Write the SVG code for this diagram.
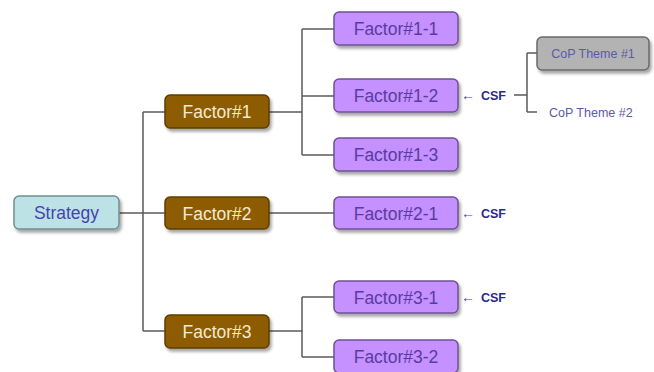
<svg xmlns="http://www.w3.org/2000/svg" width="654" height="372" viewBox="0 0 654 372">
  <defs>
    <filter id="sh" x="-10%" y="-20%" width="130%" height="160%">
      <feDropShadow dx="2" dy="3" stdDeviation="1.5" flood-color="#000" flood-opacity="0.35"/>
    </filter>
    <style>
      .box { filter: url(#sh); stroke-width: 1.5; }
      .strat { fill: #bce2e6; stroke: #6f8f94; }
      .f { fill: #8e5c00; stroke: #5e3c00; }
      .sub { fill: #c590ff; stroke: #6f5294; }
      .cop { fill: #b3b3b3; stroke: #6a6a6a; }
      text { font-family: "Liberation Sans", Arial, sans-serif; }
      .t16 { font-size: 17.5px; text-anchor: middle; }
      .ts { fill: #4444b0; }
      .tf { fill: #f4ead2; }
      .tsub { fill: #5a3ca0; }
      .csf { font-size: 12.5px; font-weight: bold; fill: #2a2a8a; }
      .arr { font-size: 14px; fill: #4444b0; }
      .copt { font-size: 12.5px; fill: #5a5aa8; }
      .conn path { fill: none; stroke: #5a5a5a; stroke-width: 1.5; }
    </style>
  </defs>
  <rect width="654" height="372" fill="#ffffff"/>

  <g id="connectors" class="conn">
    <path d="M119 213 H165"/>
    <path d="M143 112 V331"/>
    <path d="M143 112 H165"/>
    <path d="M143 331 H165"/>
    <path d="M269 112 H302"/>
    <path d="M302 29 V155"/>
    <path d="M302 29 H334"/>
    <path d="M302 96 H334"/>
    <path d="M302 155 H334"/>
    <path d="M269 213 H334"/>
    <path d="M269 331 H302"/>
    <path d="M302 297 V357"/>
    <path d="M302 297 H334"/>
    <path d="M302 357 H334"/>
    <path d="M514 95 H527"/>
    <path d="M527 53 V112"/>
    <path d="M527 53 H537"/>
    <path d="M527 112 H537"/>
  </g>

  <g id="strategy">
    <rect class="box strat" x="14" y="196" width="105" height="33" rx="5"/>
    <text class="t16 ts" x="66.5" y="219">Strategy</text>
  </g>

  <g id="factor1">
    <rect class="box f" x="165" y="95" width="104" height="33" rx="5"/>
    <text class="t16 tf" x="217" y="118">Factor#1</text>
  </g>
  <g id="factor2">
    <rect class="box f" x="165" y="197" width="104" height="32" rx="5"/>
    <text class="t16 tf" x="217" y="219.5">Factor#2</text>
  </g>
  <g id="factor3">
    <rect class="box f" x="165" y="315" width="104" height="33" rx="5"/>
    <text class="t16 tf" x="217" y="338">Factor#3</text>
  </g>

  <g id="factor1-1">
    <rect class="box sub" x="334" y="12" width="124" height="33" rx="5"/>
    <text class="t16 tsub" x="396" y="35">Factor#1-1</text>
  </g>
  <g id="factor1-2">
    <rect class="box sub" x="334" y="79" width="124" height="33" rx="5"/>
    <text class="t16 tsub" x="396" y="102">Factor#1-2</text>
  </g>
  <g id="factor1-3">
    <rect class="box sub" x="334" y="138" width="124" height="33" rx="5"/>
    <text class="t16 tsub" x="396" y="161">Factor#1-3</text>
  </g>
  <g id="factor2-1">
    <rect class="box sub" x="334" y="197" width="124" height="32" rx="5"/>
    <text class="t16 tsub" x="396" y="219.5">Factor#2-1</text>
  </g>
  <g id="factor3-1">
    <rect class="box sub" x="334" y="281" width="124" height="32" rx="5"/>
    <text class="t16 tsub" x="396" y="303.5">Factor#3-1</text>
  </g>
  <g id="factor3-2">
    <rect class="box sub" x="334" y="340" width="124" height="33" rx="5"/>
    <text class="t16 tsub" x="396" y="363">Factor#3-2</text>
  </g>

  <g id="csf1">
    <text class="arr" x="461" y="99.5">←</text>
    <text class="csf" x="481" y="100">CSF</text>
  </g>
  <g id="csf2">
    <text class="arr" x="461" y="217.5">←</text>
    <text class="csf" x="481" y="218">CSF</text>
  </g>
  <g id="csf3">
    <text class="arr" x="461" y="301.5">←</text>
    <text class="csf" x="481" y="302">CSF</text>
  </g>

  <g id="cop1">
    <rect class="box cop" x="537" y="37" width="112" height="33" rx="5"/>
    <text class="copt" x="593" y="58" text-anchor="middle">CoP Theme #1</text>
  </g>
  <g id="cop2">
    <text class="copt" x="549" y="117">CoP Theme #2</text>
  </g>
</svg>
